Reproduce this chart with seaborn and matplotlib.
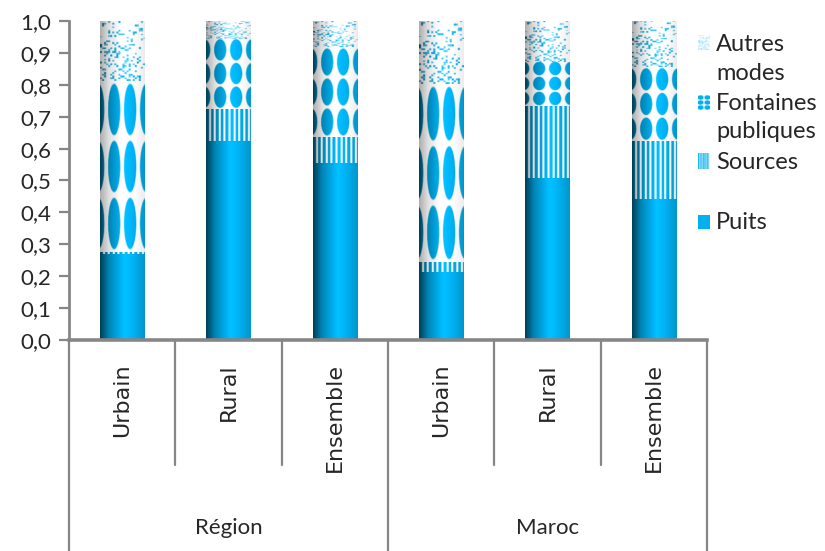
import numpy as np
import pandas as pd
import matplotlib
matplotlib.use("Agg")
import matplotlib.pyplot as plt
import seaborn as sns
from matplotlib.ticker import FuncFormatter, MultipleLocator

# Data (shares, 0-1)
groups = ["Région", "Maroc"]
milieux = ["Urbain", "Rural", "Ensemble"]
modes = ["Puits", "Sources", "Fontaines publiques", "Autres modes"]
legend_lines = [["Autres", "modes"], ["Fontaines", "publiques"], ["Sources"], ["Puits"]]

puits = [0.270, 0.625, 0.555, 0.213, 0.508, 0.442]
sources = [0.006, 0.098, 0.082, 0.032, 0.225, 0.183]
fontaines = [0.536, 0.220, 0.282, 0.557, 0.139, 0.230]
autres = [0.188, 0.057, 0.081, 0.198, 0.128, 0.145]

BLUE = np.array([0, 176, 240]) / 255
GRAY = "#868686"

sns.set_style("white")
plt.rcParams["font.family"] = ["Lato", "DejaVu Sans"]


# ---- textures for the bar segments (mask: 1 = blue, 0 = white) ----
def hash2(i, j):
    v = np.sin(i * 12.9898 + j * 78.233) * 43758.5453
    return v - np.floor(v)


def mask_solid(w, h):
    return np.ones((h, w))


def mask_stripes(w, h):
    u = (np.arange(w) + 0.5) / w * 44
    row = (((u % 4.8) < 2.8) | ((u % 9.6) < 1.0)).astype(float)
    return np.tile(row, (h, 1))


def mask_ovals(w, h, cols=(-0.04, 0.315, 0.67, 1.025), rx=0.14):
    u = ((np.arange(w) + 0.5) / w)[None, :]
    v = ((np.arange(h) + 0.5) / h)[:, None]
    m = np.zeros((h, w))
    for cu in cols:
        for r in range(3):
            cv = (r + 0.5) / 3
            d = ((u - cu) / rx) ** 2 + ((v - cv) / 0.155) ** 2
            m = np.maximum(m, np.clip((1 - d) / 0.12, 0, 1))
    return m


def mask_dots(w, h):
    u = ((np.arange(w) + 0.5) / w)[None, :]
    v = ((np.arange(h) + 0.5) / h)[:, None]
    ci = np.floor(u * 22)
    ri = np.floor(v * 34)
    hv = hash2(ci + 3.0, ri + 7.0)
    dens = 0.10 + 0.22 * v
    return np.where(hv < dens, 0.6 + 0.4 * hash2(ri, ci), 0.0)


def colorize(mask, shade=True):
    h, w = mask.shape
    if shade:
        t = (np.arange(w) + 0.5) / w
        s = np.interp(t, [0, 0.2, 0.55, 0.75, 1], [0.35, 0.75, 1.1, 1.0, 0.85])
    else:
        s = np.ones(w)
    s = s[None, :, None]
    blue = BLUE[None, None, :] * s
    white = 1 - 0.5 * np.clip(1 - s, 0, None)
    white = np.broadcast_to(white, blue.shape)
    m = mask[..., None]
    return np.clip(m * blue + (1 - m) * white, 0, 1)


textures = [mask_solid, mask_stripes, mask_ovals, mask_dots]

# ---- figure ----
fig = plt.figure(figsize=(8.25, 5.51), dpi=100)
ax = fig.add_axes([69 / 825, 1 - 340 / 551, 638 / 825, 319 / 551])

keys = [f"{g} {m}" for g in groups for m in milieux]
layers = np.cumsum(np.array([puits, sources, fontaines, autres]), axis=0)
for k, mode in enumerate(modes):
    df = pd.DataFrame({"cat": keys, "val": layers[k]})
    sns.barplot(data=df, x="cat", y="val", order=keys, color=BLUE,
                width=0.414, ax=ax, zorder=1)

patches = list(ax.patches)
n = len(keys)
for k in range(len(modes)):
    for i in range(n):
        p = patches[k * n + i]
        x0, x1 = p.get_x(), p.get_x() + p.get_width()
        y1 = p.get_y() + p.get_height()
        y0 = 0.0 if k == 0 else patches[(k - 1) * n + i].get_y() + patches[(k - 1) * n + i].get_height()
        hpx = max(3, int(round((y1 - y0) * 319 * 2)))
        img = colorize(textures[k](88, hpx))
        ax.imshow(img, extent=(x0, x1, y0, y1), aspect="auto",
                  interpolation="bilinear", zorder=2)
for p in patches:
    p.set_visible(False)

ax.set_xlim(-0.5, n - 0.5)
ax.set_ylim(0, 1)
ax.set_xlabel("")
ax.set_ylabel("")
ax.yaxis.set_major_locator(MultipleLocator(0.1))
ax.yaxis.set_major_formatter(FuncFormatter(lambda v, _: f"{v:.1f}".replace(".", ",")))
ax.tick_params(axis="y", direction="out", length=7, width=1.6, color=GRAY,
               labelsize=16, pad=6, left=True)
ax.tick_params(axis="x", length=0, labelbottom=False)
for side in ["top", "right"]:
    ax.spines[side].set_visible(False)
ax.spines["left"].set_color(GRAY)
ax.spines["left"].set_linewidth(2)
ax.spines["bottom"].set_color(GRAY)
ax.spines["bottom"].set_linewidth(2.6)

# multi-level category axis
trans = ax.get_xaxis_transform()
bounds = np.arange(n + 1) - 0.5
for j, xb in enumerate(bounds):
    ybot = -0.75 if j % len(milieux) == 0 else -(465 - 340) / 319
    ax.plot([xb, xb], [0, ybot], color=GRAY, lw=1.6, transform=trans,
            clip_on=False, zorder=0)
for i, key in enumerate(keys):
    ax.text(i, -(363 - 340) / 319, milieux[i % len(milieux)], rotation=90,
            ha="center", va="top", transform=trans, fontsize=16,
            fontfamily="DejaVu Sans")
for g, name in enumerate(groups):
    ax.text(g * len(milieux) + (len(milieux) - 1) / 2, -(528 - 340) / 319, name,
            ha="center", va="center", transform=trans, fontsize=16)

# legend drawn by hand to keep the first-line alignment of the reference
leg_marker_y = [(35, 50), (95, 110), (153, 169), (215, 229)]
leg_baselines = [[51, 80], [110, 138], [169], [229]]
leg_masks = [
    mask_dots(24, 28) * 0.8,
    mask_ovals(24, 30, cols=(0.22, 0.78), rx=0.26),
    mask_stripes(24, 30),
    mask_solid(24, 30),
]
for e in range(len(legend_lines)):
    ya, yb = leg_marker_y[e]
    max_ = fig.add_axes([698 / 825, 1 - yb / 551, 12 / 825, (yb - ya) / 551])
    max_.imshow(colorize(leg_masks[e], shade=False), aspect="auto",
                interpolation="bilinear")
    max_.axis("off")
    for line, base in zip(legend_lines[e], leg_baselines[e]):
        fig.text(716 / 825, 1 - base / 551, line, fontsize=17, va="baseline", ha="left")

fig.savefig("out.png", dpi=100)
